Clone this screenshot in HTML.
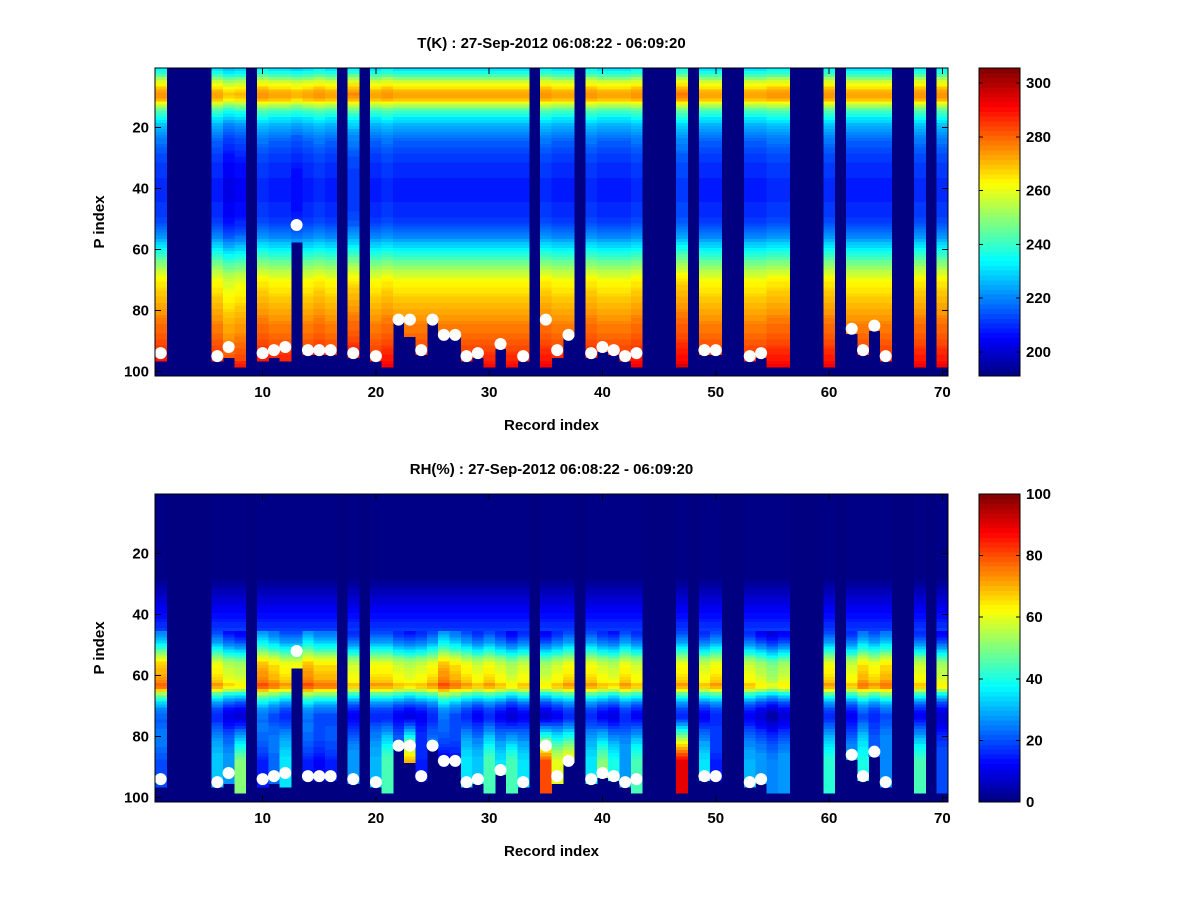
<!DOCTYPE html>
<html><head><meta charset="utf-8">
<style>
body{margin:0;background:#fff;}
svg{display:block;}
text{font-family:"Liberation Sans",sans-serif;font-weight:bold;font-size:15px;fill:#000;}
</style></head>
<body>
<svg id="fig" width="1200" height="900" viewBox="0 0 1200 900" shape-rendering="crispEdges"></svg>
<script>
// ---- data ----
const recordIndex = Array.from({length:70},(_,i)=>i+1);
// bottom P index of valid data per record (0 = missing record)
const bottomP = [96,0,0,0,0,96,95,98,0,96,95,96,57,94,94,94,0,95,0,96,98,83,88,94,83,88,88,96,95,98,92,98,96,0,98,95,88,0,95,93,94,96,98,0,0,0,98,0,94,94,0,0,96,95,98,98,0,0,0,98,0,87,94,86,96,0,0,98,0,98];
const tProfile = [232,236,242,250,256,262,266,270,273,272,268,260,252,246,240,236,232,229,226,224,222,220,218,217,216,215,214,213,212,211,211,210,210,209,209,209,208,208,208,208,208,208,208,208,209,209,209,210,210,211,212,213,215,217,219,221,224,227,230,233,236,239,242,245,248,251,254,257,259,261,263,264,265,266,267,268,269,270,271,272,273,274,275,276,277,277,278,279,280,281,282,283,284,285,286,287,289,291,293,294,294];
const tOffset = [2,0,0,0,0,0,-5,-3,0,2,0,0,-2,0,2,0,0,3,0,0,2,0,0,0,0,0,0,0,0,0,0,0,0,0,2,0,0,0,2,0,0,0,2,0,0,0,4,0,0,0,0,0,0,0,2,2,0,0,0,2,0,0,0,0,0,0,0,2,0,2];
const rhProfile = [0,0,0,0,0,0,0,0,0,0,0,0,0,0,0,0,0,0,0,0,0,0,0,0,0,0,0,1,2,3,4,5,6,7,8,9,10,11,12,13,14,15,16,17,18,20,22,25,28,32,36,41,46,51,56,60,62,63,64,65,66,68,72,70,60,48,40,34,28,24,20,18,16,16,16,17,18,19,20,21,22,23,24,25,26,27,28,28,28,28,28,28,28,28,28,28,28,28,28,28,28];
const rhOffset = [3,0,0,0,0,0,-3,-4,0,4,2,0,0,4,2,2,0,-2,0,0,0,-2,-3,-2,0,4,2,0,-2,0,-2,-4,-2,0,-4,-2,0,0,0,-2,-3,0,-2,0,0,0,0,0,-2,0,0,0,-2,-4,-6,-4,0,0,0,0,0,-2,2,0,2,0,0,-2,0,-4];
const rhLow = [20,0,0,0,0,32,28,50,0,15,22,35,0,15,12,15,0,28,0,30,45,25,70,15,25,10,12,35,32,45,35,45,35,0,80,60,65,0,35,50,40,28,45,0,0,0,90,0,35,15,0,0,30,28,25,28,0,0,0,42,0,28,40,20,25,0,0,45,0,20];
const dotRecord = [1,6,7,10,11,12,13,14,15,16,18,20,22,23,24,25,26,27,28,29,31,33,35,36,37,39,40,41,42,43,49,50,53,54,62,63,64,65];
const dotP = [94,95,92,94,93,92,52,93,93,93,94,95,83,83,93,83,88,88,95,94,91,95,83,93,88,94,92,93,95,94,93,93,95,94,86,93,85,95];
const xTicks = [10,20,30,40,50,60,70];
const yTicks = [20,40,60,80,100];
const tCbTicks = [200,220,240,260,280,300];
const rhCbTicks = [0,20,40,60,80,100];

const NS="http://www.w3.org/2000/svg";
const svg=document.getElementById('fig');
function mk(tag,attrs,parent){const e=document.createElementNS(NS,tag);for(const k in attrs)e.setAttribute(k,attrs[k]);(parent||svg).appendChild(e);return e;}
function jet(v){
  v=Math.max(0,Math.min(1,v));
  const r=Math.max(0,Math.min(1,Math.min(4*v-1.5,-4*v+4.5)));
  const g=Math.max(0,Math.min(1,Math.min(4*v-0.5,-4*v+3.5)));
  const b=Math.max(0,Math.min(1,Math.min(4*v+0.5,-4*v+2.5)));
  return `rgb(${Math.round(r*255)},${Math.round(g*255)},${Math.round(b*255)})`;
}
function quant(v){return (Math.floor(Math.max(0,Math.min(0.9999,v))*64)+0.5)/64;}

function panel(top, title, cmin, cmax, valueFn, cbTicks, key){
  const L=155,R=948,T=top,B=top+308;
  const sx=x=>L+(x-0.5)/70*(R-L);
  const sy=p=>T+(p-0.5)/101*(B-T);
  const g=mk('g',{});
  
  
  mk('rect',{x:L,y:T,width:R-L,height:B-T,fill:jet(0)},g);
  for(let c=0;c<70;c++){
    const bt=bottomP[c]; if(!bt) continue;
    for(let p=1;p<=bt;p++){
      const v=valueFn(c,p);
      const col=jet(quant((v-cmin)/(cmax-cmin)));
      const r=mk('rect',{x:sx(c+0.5),y:sy(p-0.5),width:sx(c+1.5)-sx(c+0.5)+0.5,height:sy(p+0.5)-sy(p-0.5)+0.5,fill:col},g);
      
      
    }
  }
  dotRecord.forEach((rec,i)=>{
    const d=mk('circle',{cx:sx(rec),cy:sy(dotP[i]),r:6,fill:'#fff','shape-rendering':'auto'},g);
    
    
  });
  mk('rect',{x:L,y:T,width:R-L,height:B-T,fill:'none',stroke:'#000','stroke-width':1},g);
  xTicks.forEach(t=>{
    const x=sx(t);
    mk('line',{x1:x,y1:B,x2:x,y2:B-6,stroke:'#000'},g);
    mk('line',{x1:x,y1:T,x2:x,y2:T+6,stroke:'#000'},g);
    const tx=mk('text',{x:x,y:B+21,'text-anchor':'middle'},g);tx.textContent=t;
    
    
  });
  yTicks.forEach(t=>{
    const y=sy(t);
    mk('line',{x1:L,y1:y,x2:L+6,y2:y,stroke:'#000'},g);
    mk('line',{x1:R,y1:y,x2:R-6,y2:y,stroke:'#000'},g);
    const tx=mk('text',{x:L-6,y:y+5,'text-anchor':'end'},g);tx.textContent=t;
    
    
  });
  const tt=mk('text',{x:(L+R)/2,y:T-20,'text-anchor':'middle'},g);tt.textContent=title;
  
  
  const xl=mk('text',{x:(L+R)/2,y:B+54,'text-anchor':'middle','font-size':'16'},g);xl.textContent='Record index';
  
  
  const yl=mk('text',{x:0,y:0,'text-anchor':'middle','font-size':'16',transform:`translate(104,${(T+B)/2}) rotate(-90)`},g);yl.textContent='P index';
  
  
  const CL=979,CR=1020;
  const cb=mk('g',{},svg);
  
  
  for(let i=0;i<64;i++){
    const y0=B-(i+1)/64*(B-T), y1=B-i/64*(B-T);
    mk('rect',{x:CL,y:y0,width:CR-CL,height:y1-y0+0.5,fill:jet((i+0.5)/64)},cb);
  }
  mk('rect',{x:CL,y:T,width:CR-CL,height:B-T,fill:'none',stroke:'#000'},cb);
  const cy=v=>B-(v-cmin)/(cmax-cmin)*(B-T);
  cbTicks.forEach(t=>{
    const y=cy(t);
    mk('line',{x1:CL,y1:y,x2:CL+4,y2:y,stroke:'#000'},cb);
    mk('line',{x1:CR,y1:y,x2:CR-4,y2:y,stroke:'#000'},cb);
    const tx=mk('text',{x:CR+6,y:y+5},cb);tx.textContent=t;
    
    
  });
}

panel(68,'T(K) : 27-Sep-2012 06:08:22 - 06:09:20',191,305.6,
  (c,p)=>tProfile[p-1]+tOffset[c],tCbTicks,'temperature');
panel(494,'RH(%) : 27-Sep-2012 06:08:22 - 06:09:20',0,100,
  (c,p)=>{
    let v=rhProfile[p-1];
    if(p>45) v+=rhOffset[c]*2;
    if(p>74){const w=Math.min(1,(p-74)/14); v=v*(1-w)+rhLow[c]*w;}
    return Math.max(0,Math.min(100,v));
  },rhCbTicks,'humidity');
</script>
</body></html>
